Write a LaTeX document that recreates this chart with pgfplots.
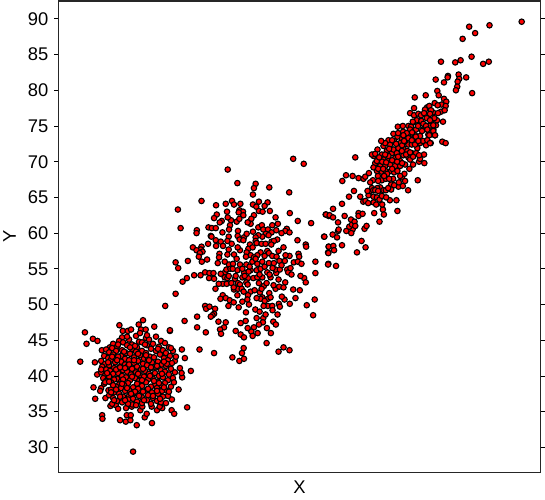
\documentclass[border=0pt]{standalone}
\usepackage{fontspec}
\setmainfont{Liberation Sans}
\usepackage{pgfplots}
\pgfplotsset{compat=1.18}
\begin{document}
\begin{tikzpicture}[x=1bp,y=1bp]
\begin{axis}[at={(0,0)},anchor=south west,scale only axis,width=484bp,height=473bp,
 xmin=57,xmax=541,ymin=26.5,ymax=92.5,
 xtick=\empty,ytick={30,35,...,90},
 /pgf/number format/assume math mode=true,
 tick align=outside,major tick length=4bp,tick style={black,line width=0.8bp},
 axis line style={line width=1.2bp,black!85},
 tick label style={font=\fontsize{18.5}{20}\selectfont},
 yticklabel style={xshift=-2.5bp},
 label style={font=\fontsize{18.5}{20}\selectfont},
 xlabel={X},ylabel={Y},
 xlabel style={at={(axis description cs:0.5,0)},anchor=north,yshift=-5.5bp},
 ylabel style={at={(axis description cs:0,0.5)},anchor=south,yshift=39bp},
 clip=false]
\addplot[only marks,mark=*,mark size=2.75bp,mark options={fill=red,draw=black,line width=1.1bp}] coordinates {
(118.3,47.1)(137.7,47.2)(142,47.8)(153.3,46.9)(121.7,46.3)(126.7,46.3)(130,46.5)(140,46.5)(144.7,46.5)(169,46.3)
(83.7,46.1)(91.7,45.2)(96.3,44.9)(85.3,44.5)(100.7,43.6)(108.7,44)(181,43.7)(198.7,43.7)(79,42)(93.7,41.9)
(184,42.5)(174,42.1)(190,40.7)(179,41.1)(181.3,39.8)(180.7,40.4)(96,40.2)(92.3,38.4)(100,38.3)(99,37.9)
(107.3,38)(177.7,38.1)(94,36.8)(104.3,36.9)(171,36.7)(186.3,35.6)(170.7,35.2)(173.3,34.7)(101,34.5)(101.3,34)
(119,33.8)(124.7,33.6)(129.3,33.8)(125.7,34.5)(129.7,34.5)(135.7,33.1)(151,33.4)(143.7,34.2)(145.7,34.7)(132,29.4)
(109.3,35.8)(114.7,35.9)(117,35.4)(125,35.5)(130.7,35.7)(139.3,35.2)(141.3,35.7)(150.7,35.7)(156,35.2)(161.3,35.5)(158.7,35.7)
(121,45.4)(135,45.6)(145,45.3)(155,45.5)(118,44.9)(128,45.1)(138,44.8)(148,45.1)(160,44.9)
(112,44.5)(122,44.7)(131,44.4)(141,44.7)(152,44.5)(164,44.6)(116,44.1)(126,44.3)(136,44)(146,44.3)(158,44.1)(168,44)
(105,43.7)(111,43.9)(121,43.6)(131,43.8)(141,43.5)(150,43.8)(162,43.6)(108,43.3)(115,43.5)(125,43.2)(135,43.4)(145,43.2)(155,43.5)(165,43.2)(172,43.5)
(103,42.8)(112,43)(120,42.8)(129,43.1)(139,42.9)(149,42.7)(159,43)(169,42.8)(107,42.5)(117,42.7)(124,42.4)(133,42.6)(143,42.4)(153,42.6)(163,42.5)(175,42.7)
(100,42.1)(110,42.3)(120,42)(128,42.2)(137,42.1)(147,42.3)(157,42)(167,42.2)(104,41.7)(114,41.9)(124,41.6)(133,41.8)(142,41.7)(151,41.9)(161,41.6)(171,41.8)
(101,41.3)(108,41.5)(118,41.2)(127,41.4)(136,41.3)(146,41.5)(155,41.2)(165,41.4)(105,40.9)(113,41.1)(122,40.8)(131,41)(140,40.9)(150,41.1)(160,40.8)(170,41)
(100,40.5)(109,40.7)(117,40.4)(126,40.6)(135,40.5)(144,40.7)(154,40.4)(164,40.6)(174,40.5)(104,40.1)(112,40.3)(121,40)(130,40.2)(139,40.1)(148,40.3)(158,40)(168,40.2)
(102,39.7)(108,39.9)(116,39.6)(125,39.8)(134,39.7)(143,39.9)(152,39.6)(162,39.8)(172,39.7)(105,39.3)(113,39.5)(120,39.2)(129,39.4)(138,39.3)(147,39.5)(157,39.2)(167,39.4)
(103,38.9)(110,39.1)(118,38.8)(127,39)(136,38.9)(145,39.1)(154,38.8)(164,39)(115,38.5)(123,38.7)(132,38.4)(141,38.6)(150,38.5)(160,38.7)(170,38.5)
(110,38.1)(120,38.3)(128,38)(137,38.2)(146,38.1)(156,38.3)(165,38)(113,37.7)(124,37.9)(133,37.6)(142,37.8)(151,37.7)(161,37.9)(108,37.3)(118,37.5)(128,37.2)(137,37.4)(147,37.3)(157,37.5)(167,37.2)
(112,36.9)(122,37.1)(132,36.8)(141,37)(152,36.9)(162,37.1)(116,36.5)(127,36.7)(136,36.4)(146,36.6)(156,36.5)(111,36.1)(121,36.3)(131,36)(141,36.2)(150,36.1)(160,36.3)
(107,41.9)(116,42.2)(123,43.4)(134,44.2)(148,42.2)(156,41.4)(163,38.4)(152,37.2)(143,36.6)(134,37.8)(126,38.3)(119,37.1)(112,38.7)(106,40.4)(115,40.9)(128,41.6)(137,43.1)(144,44.4)(157,43.8)(166,41.7)
(173,39.1)(168,37.8)(159,36.8)(149,40)(141,39.4)(131,39.9)(122,39.5)(110,37.7)(104,39.1)(117,44.4)(126,45.5)(133,42.2)(142,41)(153,39.3)(161,40.3)(138,37.2)(127,36.1)(135,35.9)(147,38.2)(156,37.9)
(119,41.2)(111,42.7)(146,45.7)(139,46)(124,41.1)(150,41.2)(130,37.5)(115,38.1)(163,42)(158,39)(129,44)(137,40.3)(145,42.9)(121,38.9)(108,39.2)(170,43.9)(100,40.9)(165,36.2)(113,36.6)(124,36.6)
(292.7,70.4)(303.3,69.7)(227,68.9)(236.7,67)(255,66.9)(253.3,66.3)(268.7,66.4)(252.3,65.4)(288.7,65.7)(200.7,64.5)
(177,63.3)(215.3,63.9)(225,64.1)(231.3,64.5)(233.3,64)(239.7,64.1)(252.3,64)(258.3,64.4)(267,64.3)(264,63.8)
(255.7,63.7)(258.3,63.1)(262,63)(269.3,63.1)(238.7,63.2)(242.3,63)(238,62.9)(242.7,62.5)(226.3,63)(216,62.6)
(213.3,62.1)(289.3,62.8)(275,62.2)(253.3,62.5)(250.7,62)(250,61.3)(297.3,61.7)(310.7,61.4)(221,61.7)(219,61.5)
(230.3,61.8)(236,61.6)(238.7,62)(179.7,60.7)(196,60.4)(195.7,60)(207.7,60.8)(211,60.7)(215,60.7)(229.3,61.1)
(228.3,60.5)(221.7,60.1)(237.3,60.3)(252.3,60.2)(257.7,60.8)(261.3,61.1)(262.7,60.5)(267.3,60.5)(271.7,61.1)(277.3,61.3)
(275.7,60.4)(271,60.1)(286.3,60.6)(284.7,60.3)(289,60.1)(265.3,59.9)(261.7,59.5)(257.7,59.7)(255,59.4)(237,59.6)
(239,59.1)(243.3,59.4)(242.7,59)(228,59.5)(226.7,58.9)(210,59.6)(210.7,59.5)(215,59)(220,58.8)(207.3,58.5)
(192,58)(200.7,58.1)(200,57.7)(195.7,57.6)(201.7,57.4)(199,57.2)(198,56.7)(215.3,58.2)(222.3,58.2)(228,57.7)
(218.7,57.1)(226.7,57)(233.3,57)(239.3,57.6)(249.3,58.4)(247.7,57.8)(246,57.3)(250,56.9)(255,58.9)(256,58.6)
(261,58.5)(271,58.8)(276.7,59.1)(273.3,58.9)(270.7,58.4)(283,58)(297,59)(305.3,58.4)(305.7,58.1)(323.7,59.5)
(325.3,62.6)(328.3,62.4)(328.3,58.1)(327.7,57.3)(298,57.1)(298.7,56.7)(289,56.8)(260,57.3)(266.7,57.5)(268.3,57.2)
(264,56.8)(271.7,56.8)(276,56.7)(256.7,56.9)(253.3,56.6)(245.3,56.7)(218.3,56.6)
(174.7,55.9)(177.3,55.1)(187,56.1)(201,56)(206.3,56.3)(217,55.8)(228.3,55.6)(232.3,55.7)(239.3,55.6)(245.7,55.6)
(251.7,56)(256.7,55.7)(261.7,56)(268.3,55.8)(273.3,55.8)(279,56.1)(284.3,56.1)(293.3,55.9)(297.3,56)(301,55.7)
(315,56)(315,54.4)(328,55.7)(193.3,54.1)(186,53.7)(181.7,53.2)(199.7,54.1)(204.3,54.5)(208.7,54.4)(212.7,54.4)
(208.3,53.7)(213.3,53.6)(224.3,54.5)(225.7,54.9)(229.7,55)(236.7,54.8)(243.3,54.5)(241.7,55)(250,54.8)(256,54.8)
(260,55)(266.7,54.5)(275.7,54.4)(275,54.9)(279.3,54.9)(286.7,54.9)(287.7,54.5)(224,53.8)(226.7,53.7)(234.3,53.6)
(241.7,53.8)(247.3,53.7)(252.7,53.7)(256.7,53.8)(261.7,53.8)(270,53.8)(222,52.9)(226,52.9)(230.7,53)(237.3,53)
(239.3,52.8)(245.7,53.1)(258.3,53)(263.3,52.6)(284.7,53.1)(303.7,53.7)(305.3,53.1)(214.7,52.2)(233.3,52.1)(237.3,52.2)
(250,51.8)(247.3,51.3)(275,52.2)(278.7,52.5)(292.7,52.1)(299.3,52)(174.7,51.5)(259.3,51.7)(268.7,51.6)(261.7,51)
(267.3,50.8)(222,51.3)(219.7,50.8)(225,50.9)(229,50.6)(236.7,51.3)(241.7,50.4)(246.7,50.7)(248.3,50)(260,50.8)
(264,50.5)(267.3,49.8)(271.7,49.8)(278.3,50.1)(279.3,49.7)(284,50.7)(281.3,51.1)(295,50.9)(289.3,50.1)(306.3,49.9)
(314.3,50.7)(164.3,49.8)(204.3,49.8)(205.3,49.4)(208.7,49.7)(214.3,49.4)(227.7,49.8)(254.7,49.3)(245.3,48.9)(213.3,48.7)
(211.7,48.5)(210,48.3)(277,48.6)(312.7,48.5)(196.3,48.3)(256,48.1)(262.7,48.1)(183.7,47.7)(217.7,47.6)(240,47.4)
(245,47.7)(262.3,47.5)(258.3,47.2)(253.3,46.8)(272.7,47.6)(275.3,47.2)(196.3,46.8)(223.3,46.8)(219.3,46.5)(220.3,45.9)
(169,46.4)(205,46.1)(235,46.3)(240,45.8)(243.3,45.4)(250.7,46.2)(252,45.6)(266.3,46.7)(270.3,46)(266,44.6)
(213.3,43.2)(231.7,42.6)(243,43.9)(241.3,43.2)(243.3,42.4)(238.7,42.1)(278,43.4)(283,44)(289,43.6)
(232,55)(236,56.4)(244,54)(249,55.3)(255,56.4)(259,54.2)(264,55.3)(272,55.1)(281,55.5)(290,55.1)(228,54)(233,52.4)(241,52.2)(247,52.8)(254,52)(256,50.9)(263,49.8)(270,51)(273,52.7)(233,50.3)
(238,49.6)(243,51.8)(259,49)(265,48.6)(269,54.2)(278,53.5)(283,52.4)(291,54.2)(246,59.9)(252,58)(265,58.5)(268,59.7)(278,57.5)(285,56.9)(237,58)(231,58.5)(224,56)(235,54)(220,54.3)(218,52.9)
(272,49.2)(225,47.5)(247,46.7)(257,46)(300,54)(248,54.6)(261,52.2)(266,53)(227,62.2)(247,61.5)(281,60)
(327.7,55.6)(335.7,55.4)(356.7,57.3)(365.3,58)(361.3,58.9)(341.7,58.3)(328,57.2)(328.3,58.1)(333,58.2)(333.7,57.6)
(324,59.5)(332.3,59.8)(337.7,60.3)(336.7,59.4)(338.3,60.5)(325.7,62.6)(329.3,62.5)(332.7,63.4)(332.7,62.2)(337.7,61.5)
(344.3,62.4)(341.7,64.1)(346,60.3)(352.3,60.5)(349,60.9)(351.7,61.2)(350.7,61.9)(354.3,61.6)(364.3,60.6)(366.3,61)
(358.3,62.8)(358.3,62.4)(362.3,62.7)(374,62.8)(379.3,61.6)(382.7,63.3)(383.7,62.6)(397.3,63.1)(389.7,64.6)(396.3,64.6)
(408,66)(360,65.1)(348.7,65.1)(353.7,65.9)(363,64.4)(365.3,64.5)(368.3,65.3)(370,65.9)(371.7,66.3)(367.3,65.9)
(373.3,65.1)(373.3,64.3)(376.7,65)(379.3,64.7)(381.7,65.2)(380,66.4)(383.3,66)(385.7,66)(391,66.8)(391,66.1)
(398.3,66.5)(402.7,66.6)(398.7,67.1)(417.7,67.4)(342,67.3)(345.7,68.1)(352.3,68)(358.3,67.7)(363.3,67.6)(365,67.9)
(368.7,68.4)(372.7,67.4)(377.7,68)(381.7,67.4)(385.7,67.6)(355,70.6)(377.3,71.7)(373.3,70.8)(375,69.8)(373.3,69.2)
(376.7,68.7)(381.7,68.6)(385.3,68.7)(390.7,68.7)(394,68.5)(397.3,68.7)(401.7,67.8)(404.3,68.3)(409.3,69)(419,70)
(424.3,69.8)(424,71)(420,70.4)(383.3,72.2)(388.3,73)(393.3,73.9)(397.7,74.9)(402.7,75)(408.3,75)(413.3,75.5)
(419,75.7)(425,75.1)(431,75.7)(428.3,73.8)(435,73.7)(430.7,72.6)(427.3,73)(410,74.5)(410.7,73.8)(415,73.7)
(416.7,73.1)(420,72.6)(417.3,71.9)(411.7,71.2)(416,71.2)(408.3,70.6)(403.3,70.9)(400,70.1)(395,70.5)(391.7,71.2)
(386.7,71.5)(381.7,71)(383.3,70.3)(388.3,70.1)(376.7,70.1)(380,69.4)(385,69.4)(390,69.6)(395,69.4)(400,69.4)
(405,69.6)(410,70.3)(388.3,70.8)(393.3,71.7)(398.3,71.9)(403.3,71.9)(408.3,72.4)(411.7,72.4)(413.3,73.1)(406.7,73.3)
(401.7,73.3)(397.3,73.5)(394,72.9)(390,72.4)(385,72.6)(400,72.6)(405,72.9)(396.7,71.2)(401.7,71.5)(407.3,71.5)
(371.7,71)(423.3,74.5)(426.7,74.9)(433.3,74.5)
(378,69)(382,70)(386,69.9)(392,70.2)(397,70)(402,69.8)(406,71)(410,71.3)(413,70.7)(389,71.8)(385,71)(392,73)(396,72.5)(402,72.3)(406,73.6)(411,74.9)(416,74.5)(420,73.6)(423,72.9)(418,75)
(422,74.3)(429,75)(436,75.1)(403,74.2)(408,73.8)(398,74)(377,66.3)(373,66)(376,64)(382,64)(368,64.2)(386,65)(393,67.6)(389,67.6)(394,66.7)(378,67.3)(387,68.3)(400,68)(405,67.3)(375,71.1)
(381,72.9)(419,70.9)(413,69.6)(370,67.1)(383,69)(392,69)(379,70.6)(384,68)(398,70.7)(404,72.9)(415,72.4)(426,72.3)(433,76.9)(437,75.8)(441,77)(427,77.6)(351,60)(355,61)(375,66)(378,65.9)(388,66.3)
(522,89.6)(489.7,89.1)(469.3,88.9)(475.3,88)(462.7,87.2)(471.7,84.7)(460.7,84.2)(455.3,83.9)(441,84)(483.3,83.7)
(489,84)(448,82)(447.7,81.8)(435.7,81.5)(444,81.1)(458.7,82.2)(459.3,81.6)(457.7,81.2)(466.3,81.8)(457.3,80.5)
(456,80)(472.3,79.6)(437.3,79.9)(438.7,79.3)(425.7,79.3)(414.7,79)(444,78.8)(446.3,78.4)(441.7,78)(445.7,77.8)
(444.7,77.2)(434.7,78.2)(429.3,77.8)(437.7,77.9)(414,77.5)(425,77.3)(431,77.2)(438,76.8)(410,76.8)(414,76.5)
(418.3,76.7)(421,76.5)(424,76.8)(430,76.7)(426.7,76.1)(434.3,76.1)(416.7,75.8)(412.7,75.6)(421.3,75.7)(430,75.8)
(443,75.6)(423.3,75.3)(426,75)(433.3,75.1)(410,74.5)(427.3,74.5)(433.3,74.3)(406.7,74)(412,74.1)(429.3,73.7)
(435,73.7)(403.3,73.7)(415.7,73.5)(408.3,73.3)(418.3,72.9)(411.7,73)(404,72.9)(427.3,73)(442.3,72.8)(445.7,72.6)(430,72.6)
};
\end{axis}
\path[use as bounding box] (-57bp,-27bp) rectangle (488bp,474bp);
\end{tikzpicture}
\end{document}
